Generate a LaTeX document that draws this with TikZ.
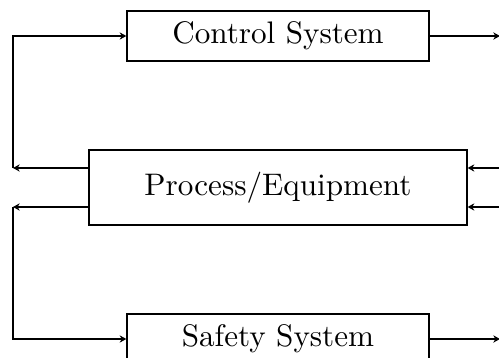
\documentclass[tikz,border=0pt]{standalone}
\usetikzlibrary{arrows.meta}
\begin{document}
\begin{tikzpicture}[x=0.329pt,y=-0.329pt,
  font=\fontsize{10.25}{12}\selectfont,
  sysbox/.style={draw, inner sep=0pt, minimum width=99.4pt, minimum height=16.45pt},
  procbox/.style={draw, inner sep=0pt, minimum width=124.4pt, minimum height=24.7pt},
  conn/.style={-{Stealth[length=2.2pt,width=2.4pt,inset=0.7pt]}}]
\useasboundingbox (0,0) rectangle (499,358);
\clip (0,0) rectangle (499,358);
\node[sysbox] (ctrl) at (278,36) {Control System};
\node[procbox] (proc) at (278,187.5) {Process/Equipment};
\node[sysbox] (safe) at (278,339) {Safety System};
% left feedback corners
\coordinate (la) at (13,168);
\coordinate (lb) at (13,207);
% right free ends
\coordinate (ro1) at (500,36);
\coordinate (ri1) at (506,168);
\coordinate (ri2) at (506,207);
\coordinate (ro2) at (500,339);
\draw[conn] (proc.west |- la) -- (la);
\draw[conn] (la) |- (ctrl.west);
\draw[conn] (proc.west |- lb) -- (lb);
\draw[conn] (lb) |- (safe.west);
\draw[conn] (ctrl.east) -- (ro1);
\draw[conn] (ri1) -- (proc.east |- ri1);
\draw[conn] (ri2) -- (proc.east |- ri2);
\draw[conn] (safe.east) -- (ro2);
\end{tikzpicture}
\end{document}
